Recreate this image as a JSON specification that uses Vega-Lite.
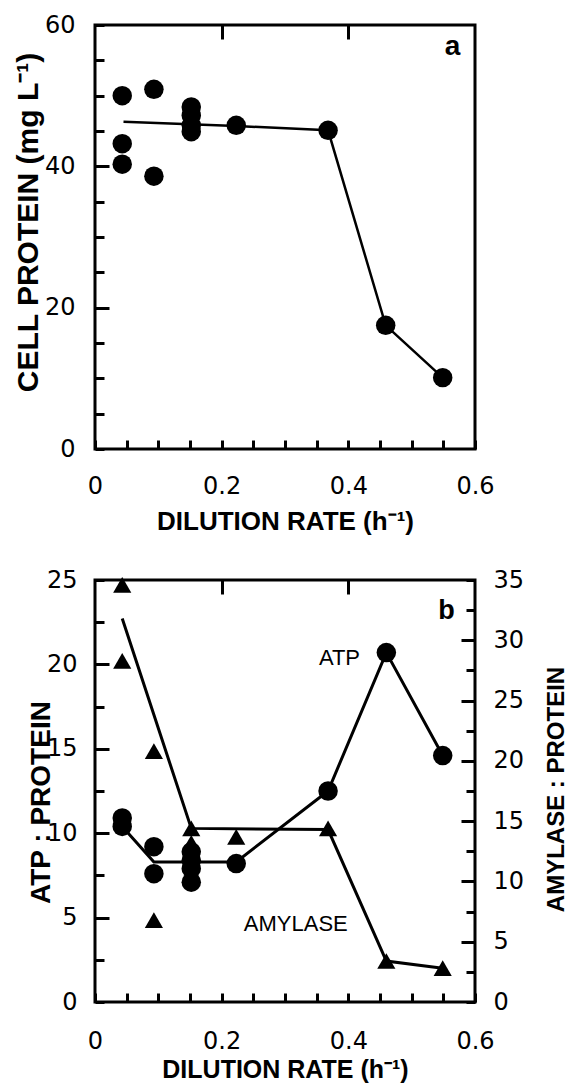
{
  "$schema": "https://vega.github.io/schema/vega-lite/v6.json",
  "padding": {"left": 11, "top": 11, "right": 0, "bottom": 0},
  "bounds": "flush",
  "spacing": 131,
  "config": {
    "view": {"stroke": "#000", "strokeWidth": 3},
    "font": "Liberation Sans",
    "axis": {
      "domain": false,
      "labelFont": "DejaVu Sans", "labelFontSize": 24, "labelColor": "#000",
      "labelFlush": false, "labelOverlap": false,
      "titleFont": "Liberation Sans", "titleFontWeight": "bold", "titleColor": "#000"
    }
  },
  "datasets": {
    "a_pts": [
      {"D": 0.043, "P": 50.0}, {"D": 0.043, "P": 43.2}, {"D": 0.043, "P": 40.3},
      {"D": 0.093, "P": 50.9}, {"D": 0.093, "P": 38.6},
      {"D": 0.152, "P": 48.4}, {"D": 0.152, "P": 47.2}, {"D": 0.152, "P": 45.8}, {"D": 0.152, "P": 44.9},
      {"D": 0.223, "P": 45.8}, {"D": 0.368, "P": 45.1}, {"D": 0.459, "P": 17.5}, {"D": 0.549, "P": 10.1}
    ],
    "a_line": [
      {"D": 0.045, "P": 46.3}, {"D": 0.223, "P": 45.7}, {"D": 0.368, "P": 45.1}, {"D": 0.459, "P": 17.5}, {"D": 0.549, "P": 10.1}
    ],
    "a_lbl": [{"D": 0.5645, "P": 56.9, "label": "a"}],
    "b_atp": [
      {"D": 0.043, "V": 10.9}, {"D": 0.043, "V": 10.4},
      {"D": 0.093, "V": 9.2}, {"D": 0.093, "V": 7.6},
      {"D": 0.152, "V": 8.9}, {"D": 0.152, "V": 8.4}, {"D": 0.152, "V": 7.9}, {"D": 0.152, "V": 7.1},
      {"D": 0.223, "V": 8.2}, {"D": 0.368, "V": 12.5}, {"D": 0.46, "V": 20.7}, {"D": 0.549, "V": 14.6}
    ],
    "b_atp_line": [
      {"D": 0.043, "V": 10.4}, {"D": 0.093, "V": 8.3}, {"D": 0.223, "V": 8.3}, {"D": 0.368, "V": 12.5}, {"D": 0.46, "V": 20.7}, {"D": 0.549, "V": 14.6}
    ],
    "b_amy": [
      {"D": 0.043, "V": 34.6}, {"D": 0.043, "V": 28.3},
      {"D": 0.093, "V": 20.8}, {"D": 0.093, "V": 6.8},
      {"D": 0.152, "V": 14.4}, {"D": 0.152, "V": 13.2}, {"D": 0.152, "V": 12.2},
      {"D": 0.223, "V": 13.7}, {"D": 0.368, "V": 14.4}, {"D": 0.46, "V": 3.4}, {"D": 0.549, "V": 2.8}
    ],
    "b_amy_line": [
      {"D": 0.043, "V": 31.8}, {"D": 0.152, "V": 14.4}, {"D": 0.368, "V": 14.3}, {"D": 0.46, "V": 3.4}, {"D": 0.549, "V": 2.8}
    ],
    "b_lbl": [{"D": 0.555, "V": 23.15, "label": "b"}],
    "b_txt": [{"D": 0.386, "V": 20.4, "label": "ATP"}, {"D": 0.317, "V": 4.6, "label": "AMYLASE"}]
  },
  "vconcat": [
    {
      "width": 380, "height": 424,
      "layer": [
        {
          "data": {"name": "a_line"},
          "mark": {"type": "line", "stroke": "black", "strokeWidth": 2.5},
          "encoding": {
            "x": {"field": "D", "type": "quantitative", "scale": {"domain": [0, 0.6], "nice": false}, "axis": null},
            "y": {"field": "P", "type": "quantitative", "scale": {"domain": [0, 60], "nice": false}, "axis": null}
          }
        },
        {
          "data": {"name": "a_pts"},
          "mark": {"type": "point", "shape": "circle", "filled": true, "fill": "black", "opacity": 1, "size": 380},
          "encoding": {
            "x": {"field": "D", "type": "quantitative", "scale": {"domain": [0, 0.6], "nice": false},
              "axis": {"orient": "bottom", "values": [0, 0.05, 0.1, 0.15, 0.2, 0.25, 0.3, 0.35, 0.4, 0.45, 0.5, 0.55, 0.6], "format": ".2~f",
                "labelExpr": "datum.value == 0 || datum.value == 0.2 || datum.value == 0.4 || datum.value == 0.6 ? datum.label : ''",
                "offset": -9, "tickSize": 9, "tickWidth": 3, "tickColor": "black", "labelPadding": 25,
                "grid": true, "gridColor": "black", "gridWidth": 3, "gridDash": [14, 2000],
                "gridOpacity": {"condition": {"test": "datum.value == 0.2 || datum.value == 0.4", "value": 1}, "value": 0},
                "title": "DILUTION RATE (h⁻¹)", "titleFontSize": 26, "titleBaseline": "top", "titleY": 68}},
            "y": {"field": "P", "type": "quantitative", "scale": {"domain": [0, 60], "nice": false},
              "axis": {"orient": "left", "values": [0, 5, 10, 15, 20, 25, 30, 35, 40, 45, 50, 55, 60],
                "labelExpr": "datum.value % 20 == 0 ? datum.label : ''",
                "offset": -9, "tickSize": 9, "tickWidth": 3, "tickColor": "black", "labelPadding": 20,
                "grid": true, "gridColor": "black", "gridWidth": 3, "gridDash": [14, 2000],
                "gridOpacity": {"condition": {"test": "datum.value == 20 || datum.value == 40", "value": 1}, "value": 0},
                "title": "CELL PROTEIN (mg L⁻¹)", "titleFontSize": 30, "titleBaseline": "middle", "titleAngle": -90, "titleX": -76, "titleY": 197}}
          }
        },
        {
          "data": {"name": "a_lbl"},
          "mark": {"type": "text", "font": "Liberation Sans", "fontWeight": "bold", "fontSize": 28, "fill": "black", "align": "center", "baseline": "middle"},
          "encoding": {
            "x": {"field": "D", "type": "quantitative", "scale": {"domain": [0, 0.6], "nice": false}, "axis": null},
            "y": {"field": "P", "type": "quantitative", "scale": {"domain": [0, 60], "nice": false}, "axis": null},
            "text": {"field": "label"}
          }
        }
      ],
      "resolve": {"axis": {"x": "independent", "y": "independent"}}
    },
    {
      "width": 380, "height": 422,
      "layer": [
        {
          "data": {"name": "b_atp_line"},
          "mark": {"type": "line", "stroke": "black", "strokeWidth": 3},
          "encoding": {
            "x": {"field": "D", "type": "quantitative", "scale": {"domain": [0, 0.6], "nice": false}, "axis": null},
            "y": {"field": "V", "type": "quantitative", "scale": {"domain": [0, 25], "nice": false}, "axis": null}
          }
        },
        {
          "data": {"name": "b_amy_line"},
          "mark": {"type": "line", "stroke": "black", "strokeWidth": 3},
          "encoding": {
            "x": {"field": "D", "type": "quantitative", "scale": {"domain": [0, 0.6], "nice": false}, "axis": null},
            "y": {"field": "V", "type": "quantitative", "scale": {"domain": [0, 35], "nice": false}, "axis": null}
          }
        },
        {
          "data": {"name": "b_atp"},
          "mark": {"type": "point", "shape": "circle", "filled": true, "fill": "black", "opacity": 1, "size": 380},
          "encoding": {
            "x": {"field": "D", "type": "quantitative", "scale": {"domain": [0, 0.6], "nice": false},
              "axis": {"orient": "bottom", "values": [0, 0.05, 0.1, 0.15, 0.2, 0.25, 0.3, 0.35, 0.4, 0.45, 0.5, 0.55, 0.6], "format": ".2~f",
                "labelExpr": "datum.value == 0 || datum.value == 0.2 || datum.value == 0.4 || datum.value == 0.6 ? datum.label : ''",
                "offset": -9, "tickSize": 9, "tickWidth": 3, "tickColor": "black", "labelPadding": 27,
                "grid": true, "gridColor": "black", "gridWidth": 3, "gridDash": [14, 2000],
                "gridOpacity": {"condition": {"test": "datum.value == 0.2 || datum.value == 0.4", "value": 1}, "value": 0},
                "title": "DILUTION RATE (h⁻¹)", "titleFontSize": 25, "titleBaseline": "top", "titleY": 64}},
            "y": {"field": "V", "type": "quantitative", "scale": {"domain": [0, 25], "nice": false},
              "axis": {"orient": "left", "values": [0, 2.5, 5, 7.5, 10, 12.5, 15, 17.5, 20, 22.5, 25],
                "labelExpr": "datum.value % 5 == 0 ? datum.label : ''",
                "offset": -9, "tickSize": 9, "tickWidth": 3, "tickColor": "black", "labelPadding": 18,
                "grid": true, "gridColor": "black", "gridWidth": 3, "gridDash": [14, 2000],
                "gridOpacity": {"condition": {"test": "datum.value % 5 == 0 && datum.value > 0 && datum.value < 25", "value": 1}, "value": 0},
                "title": "ATP : PROTEIN", "titleFontSize": 28, "titleBaseline": "middle", "titleAngle": -90, "titleX": -63, "titleY": 222}}
          }
        },
        {
          "data": {"name": "b_amy"},
          "mark": {"type": "point", "shape": "triangle-up", "filled": true, "fill": "black", "opacity": 1, "size": 330},
          "encoding": {
            "x": {"field": "D", "type": "quantitative", "scale": {"domain": [0, 0.6], "nice": false}, "axis": null},
            "y": {"field": "V", "type": "quantitative", "scale": {"domain": [0, 35], "nice": false},
              "axis": {"orient": "right", "values": [0, 2.5, 5, 7.5, 10, 12.5, 15, 17.5, 20, 22.5, 25, 27.5, 30, 32.5, 35],
                "labelExpr": "datum.value % 5 == 0 ? datum.label : ''",
                "offset": -9, "tickSize": 9, "tickWidth": 3, "tickColor": "black", "labelPadding": 18,
                "grid": true, "gridColor": "black", "gridWidth": 3, "gridDash": [14, 2000],
                "gridOpacity": {"condition": {"test": "datum.value % 5 == 0 && datum.value > 0 && datum.value < 35", "value": 1}, "value": 0},
                "title": "AMYLASE : PROTEIN", "titleFontSize": 24, "titleBaseline": "middle", "titleAngle": -90, "titleX": 90, "titleY": 209}}
          }
        },
        {
          "data": {"name": "b_lbl"},
          "mark": {"type": "text", "font": "Liberation Sans", "fontWeight": "bold", "fontSize": 27, "fill": "black", "align": "center", "baseline": "middle"},
          "encoding": {
            "x": {"field": "D", "type": "quantitative", "scale": {"domain": [0, 0.6], "nice": false}, "axis": null},
            "y": {"field": "V", "type": "quantitative", "scale": {"domain": [0, 25], "nice": false}, "axis": null},
            "text": {"field": "label"}
          }
        },
        {
          "data": {"name": "b_txt"},
          "mark": {"type": "text", "font": "Liberation Sans", "fontSize": 22, "fill": "black", "align": "center", "baseline": "middle"},
          "encoding": {
            "x": {"field": "D", "type": "quantitative", "scale": {"domain": [0, 0.6], "nice": false}, "axis": null},
            "y": {"field": "V", "type": "quantitative", "scale": {"domain": [0, 25], "nice": false}, "axis": null},
            "text": {"field": "label"}
          }
        }
      ],
      "resolve": {"scale": {"y": "independent"}, "axis": {"x": "independent", "y": "independent"}}
    }
  ]
}
